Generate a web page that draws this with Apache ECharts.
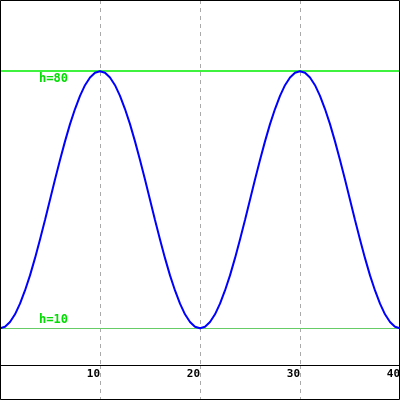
<!DOCTYPE html>
<html>
<head>
<meta charset="utf-8">
<script src="https://cdn.jsdelivr.net/npm/echarts@6/dist/echarts.min.js"></script>
<style>html,body{margin:0;padding:0;background:#fff;}#c{width:400px;height:400px;}</style>
</head>
<body>
<div id="c"></div>
<script>
// x positions (0 to 40, step 0.5)
var xs = [0,0.5,1,1.5,2,2.5,3,3.5,4,4.5,5,5.5,6,6.5,7,7.5,8,8.5,9,9.5,10,
  10.5,11,11.5,12,12.5,13,13.5,14,14.5,15,15.5,16,16.5,17,17.5,18,18.5,19,19.5,20,
  20.5,21,21.5,22,22.5,23,23.5,24,24.5,25,25.5,26,26.5,27,27.5,28,28.5,29,29.5,30,
  30.5,31,31.5,32,32.5,33,33.5,34,34.5,35,35.5,36,36.5,37,37.5,38,38.5,39,39.5,40];
// heights
var hs = [10,10.4,11.7,13.8,16.7,20.3,24.4,29.1,34.2,39.5,45,50.5,55.8,60.9,65.6,69.7,73.3,76.2,78.3,79.6,80,
  79.6,78.3,76.2,73.3,69.7,65.6,60.9,55.8,50.5,45,39.5,34.2,29.1,24.4,20.3,16.7,13.8,11.7,10.4,10,
  10.4,11.7,13.8,16.7,20.3,24.4,29.1,34.2,39.5,45,50.5,55.8,60.9,65.6,69.7,73.3,76.2,78.3,79.6,80,
  79.6,78.3,76.2,73.3,69.7,65.6,60.9,55.8,50.5,45,39.5,34.2,29.1,24.4,20.3,16.7,13.8,11.7,10.4,10];
var refLevels = [80, 10];
var refLabels = ['h=80', 'h=10'];
var xTicks = [10, 20, 30, 40];

var data = xs.map(function (x, i) { return [x, hs[i]]; });
var chart = echarts.init(document.getElementById('c'), null, {renderer: 'canvas'});
var mono = 'DejaVu Sans Mono';
var dash = {color: '#aaaaaa', type: [4, 4], width: 1};
chart.setOption({
  animation: false,
  grid: [
    {left: 0, right: 0, top: 0, bottom: 35, containLabel: false, outerBoundsMode: 'none'},
    {left: 0, right: 0, top: 365, bottom: 0, containLabel: false, outerBoundsMode: 'none'}
  ],
  xAxis: [{
    gridIndex: 0, type: 'value', min: 0, max: 40, interval: 10,
    axisLine: {show: true, onZero: false, lineStyle: {color: '#000', width: 1}},
    axisTick: {show: false},
    axisLabel: {
      show: true, color: '#000', fontFamily: mono, fontWeight: 'bold', fontSize: 11,
      align: 'right', margin: 4, showMinLabel: false, hideOverlap: false,
      formatter: function (v) { return xTicks.indexOf(v) >= 0 ? String(v) : ''; }
    },
    splitLine: {show: true, lineStyle: dash}
  }, {
    gridIndex: 1, type: 'value', min: 0, max: 40, interval: 10,
    axisLine: {show: false}, axisTick: {show: false}, axisLabel: {show: false},
    splitLine: {show: true, lineStyle: dash}
  }],
  yAxis: [{
    gridIndex: 0, type: 'value', min: 0, max: 99.4,
    show: false, splitLine: {show: false}
  }, {
    gridIndex: 1, type: 'value', min: 0, max: 1,
    show: false, splitLine: {show: false}
  }],
  graphic: [{
    type: 'rect', shape: {x: 0.5, y: 0.5, width: 399, height: 399},
    style: {fill: 'none', stroke: '#000', lineWidth: 1}, z: 100
  }],
  series: [{
    type: 'line', xAxisIndex: 0, yAxisIndex: 0, data: data, showSymbol: false, symbol: 'none',
    lineStyle: {color: '#0000ff', width: 2}, z: 5, clip: false,
    markLine: {
      silent: true, symbol: 'none',
      data: [
        {yAxis: refLevels[0], lineStyle: {color: '#00ee00', width: 1.5, type: 'solid'},
         label: {show: true, formatter: refLabels[0], position: 'insideStartBottom', distance: [39, 2],
                 color: '#00dd00', fontFamily: mono, fontWeight: 'bold', fontSize: 12}},
        {yAxis: refLevels[1], lineStyle: {color: '#66cc66', width: 1, type: 'solid'},
         label: {show: true, formatter: refLabels[1], position: 'insideStartTop', distance: [39, 2],
                 color: '#00dd00', fontFamily: mono, fontWeight: 'bold', fontSize: 12}}
      ]
    }
  }]
});
</script>
</body>
</html>
